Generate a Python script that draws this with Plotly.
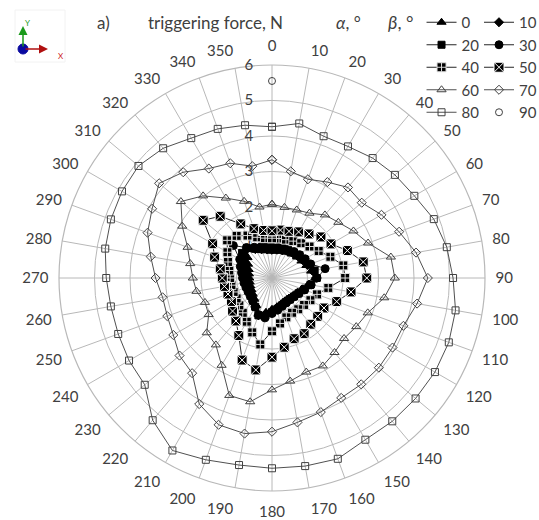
import plotly.graph_objects as go

alpha = list(range(0, 360, 10))

b0 = [0.76, 0.77, 0.80, 0.84, 0.88, 0.92, 0.96, 1.03, 1.12, 1.22, 1.05, 0.90,
      0.82, 0.77, 0.74, 0.74, 0.77, 0.82, 0.88, 0.98, 1.10, 0.90, 0.78, 0.71,
      0.67, 0.65, 0.64, 0.64, 0.66, 0.70, 0.78, 0.90, 1.05, 0.90, 0.82, 0.78]
b10 = [0.80, 0.81, 0.83, 0.87, 0.91, 0.95, 1.00, 1.07, 1.16, 1.24, 1.07, 0.93,
       0.84, 0.79, 0.76, 0.76, 0.79, 0.85, 0.92, 1.03, 1.12, 0.92, 0.80, 0.74,
       0.70, 0.69, 0.69, 0.70, 0.72, 0.77, 0.86, 1.00, 1.08, 0.94, 0.86, 0.82]
b20 = [0.84, 0.85, 0.87, 0.90, 0.94, 0.99, 1.04, 1.12, 1.22, 1.26, 1.10, 0.96,
       0.86, 0.81, 0.78, 0.78, 0.82, 0.88, 0.96, 1.08, 1.12, 0.94, 0.83, 0.77,
       0.74, 0.73, 0.74, 0.76, 0.79, 0.85, 0.94, 1.10, 1.10, 0.97, 0.90, 0.86]
b30 = [0.88, 0.88, 0.90, 0.93, 0.97, 1.02, 1.08, 1.16, 1.52, 1.27, 1.12, 0.98,
       0.88, 0.82, 0.80, 0.81, 0.85, 0.92, 1.00, 1.14, 1.10, 0.95, 0.85, 0.80,
       0.78, 0.78, 0.80, 0.83, 0.87, 0.95, 1.05, 1.42, 1.12, 1.00, 0.93, 0.90]
b40 = [1.12, 1.13, 1.15, 1.20, 1.28, 1.38, 1.52, 1.75, 2.04, 2.06, 1.61, 1.35,
       1.25, 1.18, 1.15, 1.13, 1.18, 1.30, 1.50, 1.90, 1.63, 1.42, 1.28, 1.20,
       1.15, 1.15, 1.16, 1.18, 1.22, 1.32, 1.45, 1.65, 1.55, 1.38, 1.22, 1.14]
b50 = [1.33, 1.37, 1.40, 1.50, 1.62, 1.80, 1.92, 2.26, 2.61, 2.67, 2.26, 1.94,
       1.69, 1.68, 1.70, 1.81, 1.82, 1.98, 2.23, 2.63, 2.46, 1.87, 1.58, 1.45,
       1.32, 1.32, 1.36, 1.40, 1.48, 1.72, 1.93, 2.53, 2.27, 1.76, 1.48, 1.36]
b60 = [2.08, 2.02, 2.04, 2.11, 2.32, 2.44, 2.65, 2.88, 3.40, 3.46, 3.21, 2.87,
       2.74, 2.65, 2.74, 2.86, 2.82, 2.95, 3.15, 3.54, 3.52, 2.84, 2.46, 2.40,
       2.06, 2.01, 2.16, 2.23, 2.34, 2.53, 2.92, 3.35, 3.02, 2.60, 2.30, 2.03]
b70 = [3.33, 3.05, 2.96, 3.12, 3.33, 3.30, 3.56, 3.81, 4.12, 4.39, 4.15, 3.94,
       3.92, 3.93, 3.91, 3.90, 4.02, 4.13, 4.33, 4.45, 4.40, 4.10, 3.50, 3.40,
       3.21, 3.14, 3.13, 3.28, 3.47, 3.73, 3.90, 4.15, 3.89, 3.56, 3.44, 3.20]
b80 = [4.26, 4.42, 4.25, 4.28, 4.41, 4.52, 4.63, 4.85, 5.00, 5.10, 5.25, 5.30,
       5.30, 5.28, 5.27, 5.26, 5.42, 5.38, 5.36, 5.35, 5.45, 5.61, 5.23, 4.68,
       4.65, 4.61, 4.61, 4.67, 4.77, 4.83, 4.88, 4.91, 4.77, 4.55, 4.47, 4.37]
b90_alpha = [0]
b90 = [5.55]

series = [
    ("0", b0, "triangle-up", "black", "black", 8),
    ("10", b10, "diamond", "black", "black", 7),
    ("20", b20, "square", "black", "black", 7),
    ("30", b30, "circle", "black", "black", 8),
    ("40", b40, "square-cross", "black", "#dddddd", 9),
    ("50", b50, "square-x", "black", "white", 10),
    ("60", b60, "triangle-up-open", "#404040", "#404040", 8),
    ("70", b70, "diamond-open", "#404040", "#404040", 7),
    ("80", b80, "square-open", "#404040", "#404040", 7),
]

FONT = "Lato"
TXT = "#404040"

fig = go.Figure()
for i, (name, vals, sym, col, lcol, size) in enumerate(series):
    leg = "legend" if i % 2 == 0 else "legend2"
    fig.add_trace(go.Scatterpolar(
        r=vals + [vals[0]], theta=alpha + [alpha[0]], name=name,
        mode="lines+markers",
        line=dict(color="#262626" if i < 6 else "#505050", width=1),
        marker=dict(symbol=sym, size=size, color=col,
                    line=dict(color=lcol, width=1)),
        legend=leg,
    ))
fig.add_trace(go.Scatterpolar(
    r=b90, theta=b90_alpha, name="90", mode="markers",
    marker=dict(symbol="circle-open", size=7, color="#404040",
                line=dict(width=1)),
    legend="legend2",
))

cx, cy, R = 272, 278, 213
W, H = 539, 520
fig.update_layout(
    width=W, height=H,
    margin=dict(l=0, r=0, t=0, b=0, autoexpand=False),
    paper_bgcolor="white",
    font=dict(family=FONT, size=15, color=TXT),
    polar=dict(
        domain=dict(x=[(cx - R) / W, (cx + R) / W],
                    y=[(H - cy - R) / H, (H - cy + R) / H]),
        bgcolor="white",
        angularaxis=dict(rotation=90, direction="clockwise",
                         tickvals=alpha, ticktext=[str(a) for a in alpha],
                         gridcolor="#b8b8b8", gridwidth=1,
                         linecolor="#b8b8b8", linewidth=1.2,
                         ticks="outside", ticklen=7,
                         tickcolor="rgba(0,0,0,0)",
                         tickfont=dict(size=15, color=TXT),
                         layer="below traces"),
        radialaxis=dict(range=[0, 6], tickvals=[0, 1, 2, 3, 4, 5, 6],
                        ticktext=["", "1", "2", "3", "4", "5", "6"],
                        angle=90, tickangle=90, side="counterclockwise",
                        showline=False, gridcolor="#b8b8b8", gridwidth=1,
                        ticks="outside", ticklen=13,
                        tickcolor="rgba(0,0,0,0)",
                        tickfont=dict(size=15, color=TXT),
                        layer="below traces"),
    ),
    legend=dict(x=386 / W, y=1 - 6 / H, xanchor="left", yanchor="top",
                orientation="v", title=dict(text="<i>β</i>, °", side="left"),
                font=dict(size=15, color=TXT), bgcolor="rgba(0,0,0,0)",
                itemwidth=30, tracegroupgap=0),
    legend2=dict(x=479 / W, y=1 - 6 / H, xanchor="left", yanchor="top",
                 orientation="v", font=dict(size=15, color=TXT),
                 bgcolor="rgba(0,0,0,0)", itemwidth=30, tracegroupgap=0),
    showlegend=True,
)

ann = [
    dict(x=103, y=23, text="a)"),
    dict(x=215, y=23, text="triggering force, N"),
    dict(x=348, y=23, text="<i>α</i>, °"),
]
for a in ann:
    fig.add_annotation(x=a["x"] / W, y=1 - a["y"] / H, xref="paper", yref="paper",
                       text=a["text"], showarrow=False, xanchor="center",
                       yanchor="middle", font=dict(size=17, color=TXT))

# small axis icon
fig.add_shape(type="rect", xref="paper", yref="paper",
              x0=15 / W, x1=65 / W, y0=1 - 62 / H, y1=1 - 10 / H,
              line=dict(color="#f2f2f2", width=1), fillcolor="white")
fig.add_annotation(x=23 / W, y=1 - 26 / H, ax=0, ay=22,
                   xref="paper", yref="paper", axref="pixel", ayref="pixel",
                   showarrow=True, arrowhead=2, arrowsize=1.2, arrowwidth=1.5,
                   arrowcolor="#1a9a1a", text="")
fig.add_annotation(x=48 / W, y=1 - 49 / H, ax=-24, ay=0,
                   xref="paper", yref="paper", axref="pixel", ayref="pixel",
                   showarrow=True, arrowhead=2, arrowsize=1.2, arrowwidth=1.5,
                   arrowcolor="#b01010", text="")
fig.add_shape(type="circle", xref="paper", yref="paper",
              x0=18 / W, x1=28 / W, y0=1 - 54 / H, y1=1 - 44 / H,
              fillcolor="#0a0aa0", line=dict(color="#0a0aa0", width=1))
fig.add_annotation(x=23 / W, y=1 - 16 / H, xref="paper", yref="paper",
                   text="Y", showarrow=False, font=dict(size=8, color="#1a9a1a"))
fig.add_annotation(x=56 / W, y=1 - 49 / H, xref="paper", yref="paper",
                   text="X", showarrow=False, font=dict(size=8, color="#cc2020"))

fig.write_html("out.html",
               config={"displayModeBar": False},
               post_script="document.body.style.margin='0';"
                           "document.body.style.padding='0';")
